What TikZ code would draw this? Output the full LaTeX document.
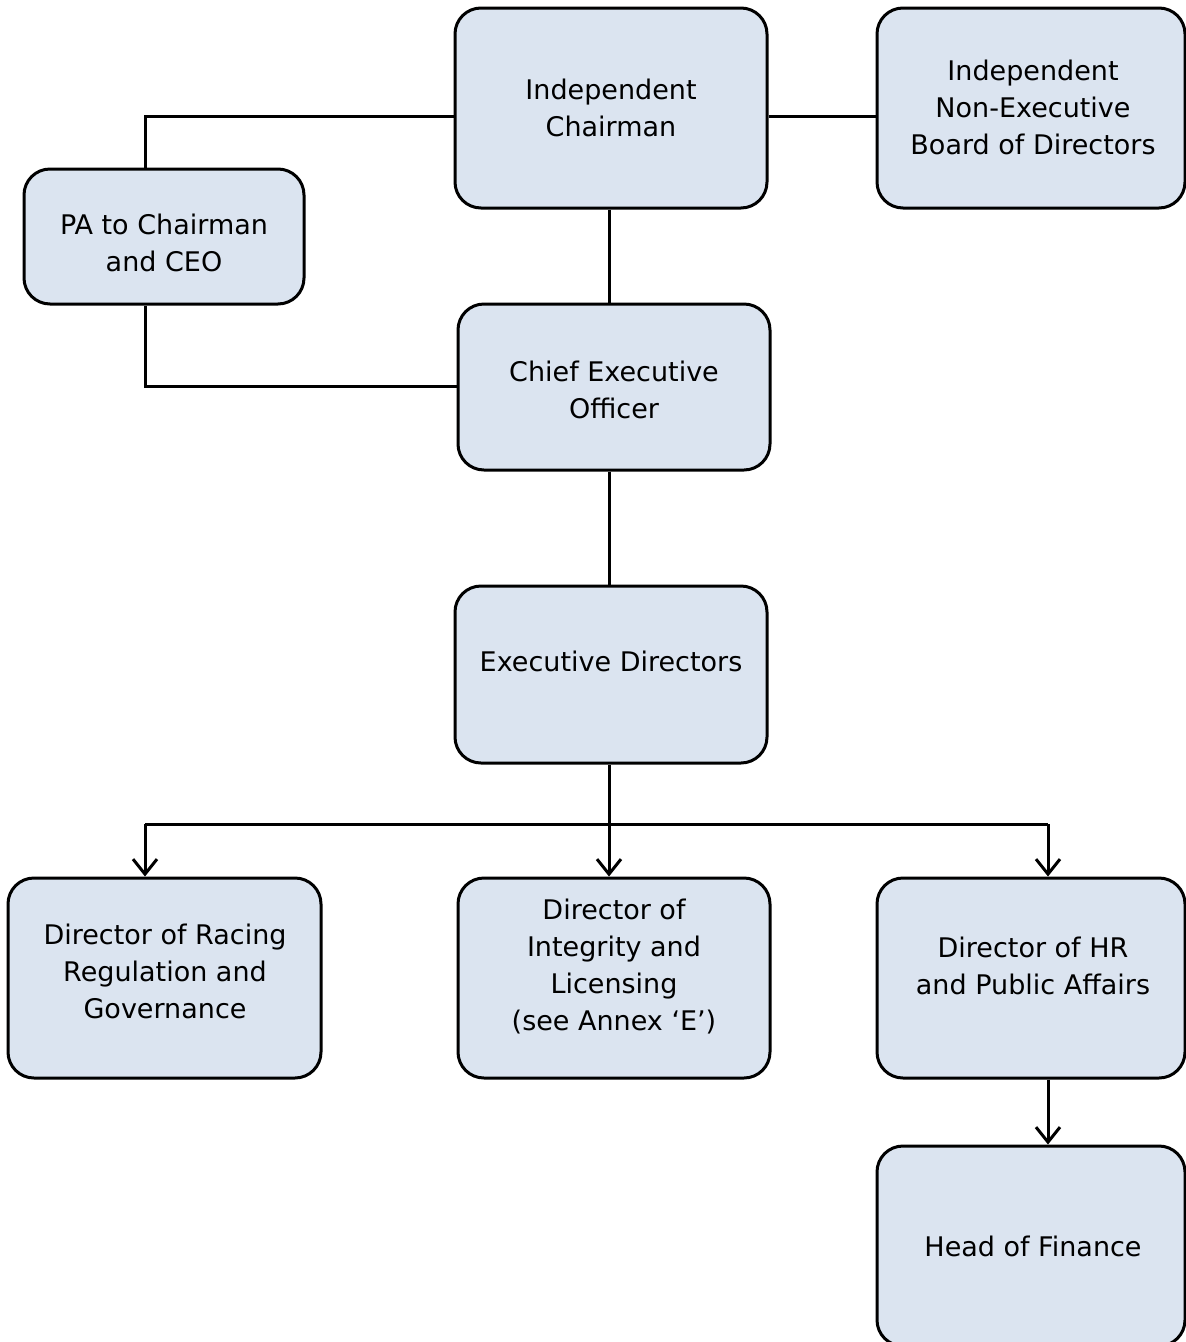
\documentclass[tikz,border=0pt]{standalone}
\usepackage{fontspec}
\setmainfont{DejaVu Sans}
\usetikzlibrary{arrows.meta}
\definecolor{boxfill}{RGB}{219,228,240}
\tikzset{
  orgbox/.style={draw=black, line width=3pt, fill=boxfill, rounded corners=26pt, inner sep=0pt},
  boxtext/.style={inner sep=0pt, align=center, font=\fontsize{27}{37}\selectfont},
  link/.style={line width=3pt, draw=black},
  arr/.style={link, -{Straight Barb[length=15pt,width=24pt,line width=3pt]}}
}
\begin{document}
\begin{tikzpicture}[x=1pt,y=-1pt]
\useasboundingbox (0,0) rectangle (1186,1342);
\node[orgbox, minimum width=312pt, minimum height=200pt] (chair) at (611,108) {};
\node[orgbox, minimum width=308pt, minimum height=200pt] (board) at (1031,108) {};
\node[orgbox, minimum width=280pt, minimum height=135pt] (pa) at (164,236.5) {};
\node[orgbox, minimum width=312pt, minimum height=166pt] (ceo) at (614,387) {};
\node[orgbox, minimum width=312pt, minimum height=177pt] (exec) at (611,674.5) {};
\node[orgbox, minimum width=313pt, minimum height=200pt] (racing) at (164.5,978) {};
\node[orgbox, minimum width=312pt, minimum height=200pt] (integ) at (614,978) {};
\node[orgbox, minimum width=308pt, minimum height=200pt] (hr) at (1031,978) {};
\node[orgbox, minimum width=308pt, minimum height=200pt] (fin) at (1031,1246) {};

\node[boxtext] (chair-t) at (611,107.5) {Independent\\Chairman};
\node[boxtext] (board-t) at (1033,107) {Independent\\Non-Executive\\Board of Directors};
\node[boxtext] (pa-t) at (164,243) {PA to Chairman\\and CEO};
\node[boxtext] (ceo-t) at (614,389.5) {Chief Executive\\Officer};
\node[boxtext] (exec-t) at (611,661) {Executive Directors};
\node[boxtext] (racing-t) at (165,971.5) {Director of Racing\\Regulation and\\Governance};
\node[boxtext] (integ-t) at (614,966.5) {Director of\\Integrity and\\Licensing\\(see Annex ‘E’)};
\node[boxtext] (hr-t) at (1033,966) {Director of HR\\and Public Affairs};
\node[boxtext] (fin-t) at (1033,1246) {Head of Finance};

\coordinate (jx) at (609,824);
\draw[link] (chair.west |- 0,116) -| (pa.north -| 145,0);
\draw[link] (pa.south -| 145,0) |- (ceo.west |- 0,386);
\draw[link] (chair.east |- 0,116) -- (board.west |- 0,116);
\draw[link] (chair.south -| 609,0) -- (ceo.north -| 609,0);
\draw[link] (ceo.south -| 609,0) -- (exec.north -| 609,0);
\draw[link] (exec.south -| 609,0) -- (jx);
\draw[link] (145,824) -- (1048,824);
\draw[arr] (145,824) -- (racing.north -| 145,0);
\draw[arr] (jx) -- (integ.north -| 609,0);
\draw[arr] (1048,824) -- (hr.north -| 1048,0);
\draw[arr] (hr.south -| 1048,0) -- (fin.north -| 1048,0);
\end{tikzpicture}
\end{document}
